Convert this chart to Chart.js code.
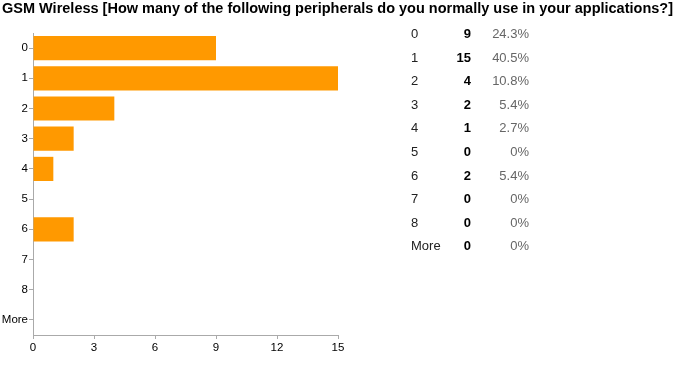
<!DOCTYPE html>
<html>
<head>
<meta charset="utf-8">
<script src="https://cdn.jsdelivr.net/npm/chart.js@4/dist/chart.umd.min.js"></script>
<style>
  html, body { margin: 0; padding: 0; background: #fff; }
  #wrap { width: 677px; height: 370px; position: relative; }
</style>
</head>
<body>
<div id="wrap"><canvas id="myChart" width="677" height="370"></canvas></div>
<script>
let title = "GSM Wireless [How many of the following peripherals do you normally use in your applications?]";
let categories = ["0", "1", "2", "3", "4", "5", "6", "7", "8", "More"];
let counts = [9, 15, 4, 2, 1, 0, 2, 0, 0, 0];
let percents = ["24.3%", "40.5%", "10.8%", "5.4%", "2.7%", "0%", "5.4%", "0%", "0%", "0%"];
let xTicks = [0, 3, 6, 9, 12, 15];

const FONT = "'Liberation Sans', Arial, sans-serif";

// title + the little summary table on the right
const extrasPlugin = {
  id: "extras",
  afterDraw(chart) {
    let c = chart.ctx;
    c.save();
    c.textBaseline = "alphabetic";
    c.font = "bold 14.5px " + FONT;
    c.fillStyle = "#000";
    c.textAlign = "left";
    c.fillText(title, 2, 13);

    c.textBaseline = "middle";
    categories.forEach((cat, i) => {
      let y = 34.5 + i * 23.6;
      c.font = "13px " + FONT;
      c.fillStyle = "#222";
      c.textAlign = "left";
      c.fillText(cat, 411, y);
      c.font = "bold 13px " + FONT;
      c.fillStyle = "#000";
      c.textAlign = "right";
      c.fillText(String(counts[i]), 471, y);
      c.font = "13px " + FONT;
      c.fillStyle = "#666";
      c.fillText(percents[i], 529, y);
    });
    c.restore();
  }
};

let ctx = document.getElementById("myChart").getContext("2d");
let myChart = new Chart(ctx, {
  type: "bar",
  data: {
    labels: categories,
    datasets: [{
      data: counts,
      backgroundColor: "#ff9900",
      borderWidth: 0,
      barPercentage: 0.8,
      categoryPercentage: 1
    }]
  },
  options: {
    indexAxis: "y",
    responsive: false,
    animation: false,
    layout: { padding: { left: 0, right: 339, top: 33, bottom: 0 } },
    plugins: {
      legend: { display: false },
      tooltip: { enabled: false },
      title: { display: false }
    },
    scales: {
      x: {
        min: 0,
        max: 15,
        afterBuildTicks: (scale) => { scale.ticks = xTicks.map(v => ({ value: v })); },
        afterFit: (scale) => { scale.height = 35; },
        border: { color: "#aaa" },
        grid: { drawOnChartArea: false, color: "#aaa", tickLength: 4 },
        ticks: { color: "#000", font: { family: FONT, size: 11.5 }, padding: 2 }
      },
      y: {
        afterFit: (scale) => { scale.width = 33; },
        border: { color: "#aaa" },
        grid: { drawOnChartArea: false, offset: false, color: "#aaa", tickLength: 4 },
        ticks: { color: "#000", font: { family: FONT, size: 11.5 }, padding: 1 }
      }
    }
  },
  plugins: [extrasPlugin]
});
</script>
</body>
</html>
